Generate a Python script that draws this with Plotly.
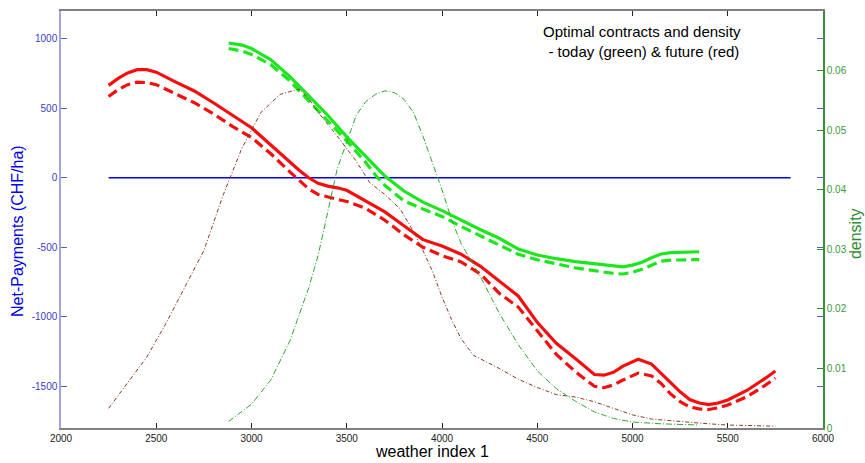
import plotly.graph_objects as go

# Weather index grid and optimal net payments (CHF/ha), future climate
future_x = [2250, 2300, 2350, 2400, 2450, 2500, 2600, 2700, 2800, 2900, 3000, 3100, 3200, 3250,
            3300, 3350, 3400, 3450, 3500, 3600, 3700, 3800, 3900, 4000, 4100, 4200, 4300, 4400,
            4500, 4600, 4700, 4800, 4850, 4900, 4950, 5030, 5100, 5150, 5200, 5250, 5300, 5350,
            5400, 5450, 5500, 5600, 5700, 5750]
future_solid = [665, 715, 755, 778, 778, 760, 690, 625, 540, 450, 360, 238, 115, 55,
                0, -40, -60, -72, -90, -165, -245, -345, -445, -490, -550, -635, -745, -850,
                -1040, -1190, -1300, -1415, -1420, -1400, -1355, -1305, -1340, -1405, -1470, -1540, -1595, -1620,
                -1632, -1620, -1598, -1530, -1440, -1390]
future_dashed = [585, 635, 670, 688, 685, 670, 605, 540, 460, 370, 290, 175, 45, -15,
                 -80, -120, -140, -155, -170, -220, -305, -410, -500, -560, -605, -690, -830, -930,
                 -1100, -1270, -1395, -1500, -1510, -1490, -1455, -1405, -1425, -1480, -1555, -1610, -1648, -1662,
                 -1667, -1655, -1635, -1575, -1490, -1440]

# Optimal net payments, today's climate
today_x = [2880, 2950, 3000, 3100, 3200, 3300, 3400, 3500, 3600, 3650, 3700, 3800, 3900, 4000,
           4100, 4200, 4300, 4400, 4500, 4600, 4700, 4800, 4900, 4950, 5000, 5050, 5100, 5150,
           5200, 5300, 5350]
today_solid = [970, 955, 930, 850, 730, 590, 450, 295, 150, 80, 12, -95, -175, -236,
               -305, -372, -435, -512, -555, -582, -603, -620, -634, -640, -628, -608, -575, -548,
               -538, -533, -532]
today_dashed = [930, 912, 888, 815, 700, 555, 405, 265, 110, 20, -55, -165, -225, -278,
                -350, -415, -480, -550, -590, -620, -648, -668, -688, -692, -680, -658, -630, -600,
                -592, -588, -588]

# Weather index densities
dens_future_x = [2250, 2350, 2450, 2550, 2650, 2750, 2850, 2950, 3050, 3150, 3250, 3300, 3350, 3450,
                 3550, 3620, 3700, 3780, 3850, 3900, 3950, 4000, 4050, 4100, 4165, 4300, 4400, 4500,
                 4600, 4700, 4800, 4900, 5000, 5100, 5200, 5300, 5400, 5500, 5600, 5750]
dens_future = [0.0033, 0.0075, 0.0119, 0.0175, 0.0236, 0.0298, 0.0390, 0.0470, 0.0530, 0.0560, 0.0569, 0.0553, 0.0530, 0.0490,
               0.0448, 0.0412, 0.0392, 0.0368, 0.0330, 0.0298, 0.0263, 0.0220, 0.0182, 0.0150, 0.0122, 0.0100, 0.0082, 0.0068,
               0.0056, 0.0052, 0.0044, 0.0033, 0.0022, 0.0015, 0.0012, 0.0009, 0.0007, 0.0005, 0.0004, 0.0003]

dens_today_x = [2880, 2950, 3000, 3100, 3200, 3300, 3350, 3400, 3450, 3500, 3550, 3600, 3650, 3700,
                3750, 3800, 3850, 3900, 3950, 4000, 4050, 4100, 4200, 4300, 4400, 4500, 4600, 4700,
                4800, 4900, 5000, 5150, 5350]
dens_today = [0.0011, 0.0028, 0.0040, 0.0080, 0.0145, 0.0235, 0.0290, 0.0362, 0.0435, 0.0480, 0.0525, 0.0548, 0.0560, 0.0566,
              0.0563, 0.0552, 0.0530, 0.0490, 0.0445, 0.0400, 0.0350, 0.0310, 0.0255, 0.0193, 0.0140, 0.0096, 0.0066, 0.0045,
              0.0027, 0.0016, 0.0010, 0.0007, 0.0005]

# Zero reference line
zero_x = [2250, 5830]
zero_y = [0, 0]

# Axis ticks
x_ticks = [2000, 2500, 3000, 3500, 4000, 4500, 5000, 5500, 6000]
y_ticks = [-1500, -1000, -500, 0, 500, 1000]
y_ticktext = ["-1500", "-1000", "-500", "0", "500", "1000"]
y2_ticks = [0, 0.01, 0.02, 0.03, 0.04, 0.05, 0.06]
y2_ticktext = ["0", "0.01", "0.02", "0.03", "0.04", "0.05", "0.06"]

FONT = "Liberation Sans, Arial, sans-serif"
RED = "#f40f0f"
GREEN = "#1ee61e"

fig = go.Figure()

fig.add_trace(go.Scatter(x=dens_future_x, y=dens_future, yaxis="y2", mode="lines",
                         line=dict(color="#8c3a22", width=1, dash="4px,2px,1px,2px")))
fig.add_trace(go.Scatter(x=dens_today_x, y=dens_today, yaxis="y2", mode="lines",
                         line=dict(color="#2fa82f", width=1, dash="6px,2px,1px,2px")))

fig.add_trace(go.Scatter(x=zero_x, y=zero_y, mode="lines",
                         line=dict(color="#0000f0", width=1.5)))

fig.add_trace(go.Scatter(x=future_x, y=future_solid, mode="lines",
                         line=dict(color=RED, width=3.2)))
fig.add_trace(go.Scatter(x=future_x, y=future_dashed, mode="lines",
                         line=dict(color=RED, width=3.2, dash="10px,5px")))
fig.add_trace(go.Scatter(x=today_x, y=today_solid, mode="lines",
                         line=dict(color=GREEN, width=3.2)))
fig.add_trace(go.Scatter(x=today_x, y=today_dashed, mode="lines",
                         line=dict(color=GREEN, width=3.2, dash="10px,5px")))

fig.update_layout(
    width=865, height=463,
    margin=dict(l=61, r=42, t=9, b=35),
    paper_bgcolor="white", plot_bgcolor="white",
    showlegend=False,
    font=dict(family=FONT, size=10, color="black"),
    xaxis=dict(range=[2000, 6000], tickvals=x_ticks, ticks="inside", ticklen=5,
               tickcolor="#222222", showline=True, linecolor="#808080", linewidth=1.5,
               mirror="ticks", showgrid=False, zeroline=False,
               tickfont=dict(size=10, color="#222222")),
    yaxis=dict(range=[-1800, 1200], tickvals=y_ticks, ticktext=y_ticktext, ticks="inside",
               ticklen=6, tickcolor="#5a5ad0", showline=True, linecolor="#a4a4de", linewidth=1.5,
               mirror="ticks", showgrid=False, zeroline=False,
               tickfont=dict(size=10, color="#3c3cc0")),
    yaxis2=dict(range=[0, 0.07], overlaying="y", side="right", tickvals=y2_ticks,
                ticktext=y2_ticktext, ticks="inside", ticklen=6, tickcolor="#2e8b2e",
                showline=True, linecolor="#3a8f3a", linewidth=1.5, showgrid=False,
                zeroline=False, tickfont=dict(size=10, color="#3a9a3a")),
    annotations=[
        dict(text="Optimal contracts and density<br> - today (green) & future (red)",
             xref="paper", yref="paper", x=0.7625, y=0.926, xanchor="center", yanchor="middle",
             showarrow=False, font=dict(size=15, color="black", family=FONT), align="center"),
        dict(text="weather index 1", xref="paper", yref="paper", x=0.487, y=-0.0573,
             xanchor="center", yanchor="middle",
             showarrow=False, font=dict(size=16, color="black", family=FONT)),
        dict(text="Net-Payments (CHF/ha)", xref="paper", yref="paper", x=-0.0564, y=0.4726,
             xanchor="center", yanchor="middle",
             showarrow=False, textangle=-90, font=dict(size=16, color="#0000ee", family=FONT)),
        dict(text="density", xref="paper", yref="paper", x=1.042, y=0.465,
             xanchor="center", yanchor="middle",
             showarrow=False, textangle=-90, font=dict(size=16, color="#2e8b2e", family=FONT)),
    ],
)

fig.write_html("out.html")
